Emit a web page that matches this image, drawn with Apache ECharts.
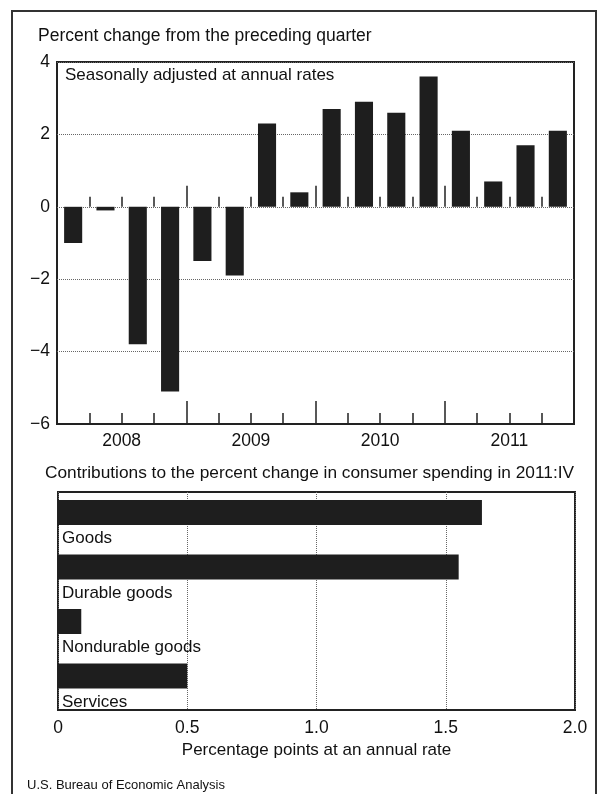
<!DOCTYPE html>
<html>
<head>
<meta charset="utf-8">
<script src="https://cdn.jsdelivr.net/npm/echarts@6/dist/echarts.min.js"></script>
<style>
html,body{margin:0;padding:0;background:#fff;}
#chart{width:600px;height:794px;}
</style>
</head>
<body>
<div id="chart"></div>
<script>
// ---- Data ----
const quarters = ['2008:I','2008:II','2008:III','2008:IV','2009:I','2009:II','2009:III','2009:IV',
                  '2010:I','2010:II','2010:III','2010:IV','2011:I','2011:II','2011:III','2011:IV'];
const pceChange = [-1.0, -0.1, -3.8, -5.1, -1.5, -1.9, 2.3, 0.4, 2.7, 2.9, 2.6, 3.6, 2.1, 0.7, 1.7, 2.1];
const years = ['2008', '2009', '2010', '2011'];
const components = ['Goods', 'Durable goods', 'Nondurable goods', 'Services'];
const contributions = [1.64, 1.55, 0.09, 0.50];

const FONT = "'Liberation Sans', Arial, Helvetica, sans-serif";
const INK = '#111';
const BAR = '#1e1e1e';

const chart = echarts.init(document.getElementById('chart'), null, {renderer: 'canvas'});

const minusFmt = v => (v < 0 ? '\u2212' + Math.abs(v) : String(v));

const option = {
  backgroundColor: '#fff',
  animation: false,
  textStyle: {fontFamily: FONT, color: INK},
  title: [
    {text: 'Percent change from the preceding quarter', left: 38, top: 27, padding: 0,
     textStyle: {fontSize: 17.5, fontWeight: 'normal', color: INK, fontFamily: FONT}},
    {text: 'Seasonally adjusted at annual rates', left: 65, top: 67, padding: 0,
     textStyle: {fontSize: 17, fontWeight: 'normal', color: INK, fontFamily: FONT}},
    {text: 'Contributions to the percent change in consumer spending in 2011:IV', left: 45, top: 465, padding: 0,
     textStyle: {fontSize: 17.3, fontWeight: 'normal', color: INK, fontFamily: FONT}},
    {text: 'U.S. Bureau of Economic Analysis', left: 27, top: 779, padding: 0,
     textStyle: {fontSize: 13, fontWeight: 'normal', color: INK, fontFamily: FONT}}
  ],
  graphic: [
    {type: 'rect', shape: {x: 12, y: 11, width: 584, height: 830}, silent: true,
     style: {fill: 'none', stroke: '#333', lineWidth: 2}, z: -1}
  ],
  grid: [
    {left: 57, right: 26, top: 62, bottom: 370, show: true, borderColor: '#222', borderWidth: 2, backgroundColor: 'transparent'},
    {left: 58, right: 25, top: 492, bottom: 84, show: true, borderColor: '#222', borderWidth: 2, backgroundColor: 'transparent'}
  ],
  xAxis: [
    // 0: quarter ticks at the bottom
    {gridIndex: 0, type: 'category', data: quarters, position: 'bottom',
     axisLine: {show: true, onZero: false, lineStyle: {color: '#222', width: 2}},
     axisTick: {show: true, inside: true, length: 11, interval: 0, lineStyle: {color: '#222', width: 1.5}},
     axisLabel: {show: false}, splitLine: {show: false}},
    // 1: year ticks & labels at the bottom
    {gridIndex: 0, type: 'category', data: years, position: 'bottom',
     axisLine: {show: true, onZero: false, lineStyle: {color: '#222', width: 2}},
     axisTick: {show: true, inside: true, length: 23, interval: 0, lineStyle: {color: '#222', width: 1.5}},
     axisLabel: {show: true, fontSize: 17.5, color: INK, margin: 8, fontFamily: FONT},
     splitLine: {show: false}},
    // 2: quarter ticks on the zero line
    {gridIndex: 0, type: 'category', data: quarters, position: 'bottom',
     axisLine: {show: true, onZero: true, onZeroAxisIndex: 0, lineStyle: {color: '#000', opacity: 0}},
     axisTick: {show: true, inside: true, length: 10, interval: 0, lineStyle: {color: '#222', width: 1.5, opacity: 1}},
     axisLabel: {show: false}, splitLine: {show: false}},
    // 3: year ticks on the zero line
    {gridIndex: 0, type: 'category', data: years, position: 'bottom',
     axisLine: {show: true, onZero: true, onZeroAxisIndex: 0, lineStyle: {color: '#000', opacity: 0}},
     axisTick: {show: true, inside: true, length: 21, interval: 0, lineStyle: {color: '#222', width: 1.5, opacity: 1}},
     axisLabel: {show: false}, splitLine: {show: false}},
    // 4: bottom chart value axis
    {gridIndex: 1, type: 'value', min: 0, max: 2, interval: 0.5,
     axisLine: {show: false}, axisTick: {show: false},
     axisLabel: {fontSize: 17.5, color: INK, margin: 9, fontFamily: FONT,
                 formatter: v => (v === 0 ? '0' : v.toFixed(1))},
     splitLine: {show: true, lineStyle: {type: 'dotted', color: '#666', width: 1}},
     name: 'Percentage points at an annual rate', nameLocation: 'middle', nameGap: 32,
     nameTextStyle: {fontSize: 17, color: INK, fontFamily: FONT}}
  ],
  yAxis: [
    {gridIndex: 0, type: 'value', min: -6, max: 4, interval: 2,
     axisLine: {show: false}, axisTick: {show: false},
     axisLabel: {fontSize: 17.5, color: INK, margin: 7, fontFamily: FONT, formatter: minusFmt},
     splitLine: {show: true, lineStyle: {type: 'dotted', color: '#666', width: 1}}},
    {gridIndex: 1, type: 'category', data: components, inverse: true,
     axisLine: {show: false}, axisTick: {show: false}, axisLabel: {show: false},
     splitLine: {show: false}}
  ],
  series: [
    {name: 'Percent change', type: 'bar', xAxisIndex: 0, yAxisIndex: 0,
     data: pceChange, barCategoryGap: '44%', itemStyle: {color: BAR}},
    {name: 'Contribution', type: 'bar', xAxisIndex: 4, yAxisIndex: 1,
     data: contributions, barWidth: 25, barGap: '-46%', itemStyle: {color: BAR},
     label: {show: true, position: [4, 30], formatter: '{b}', fontSize: 17, color: INK, fontFamily: FONT}},
    {name: 'spacer', type: 'bar', xAxisIndex: 4, yAxisIndex: 1,
     data: [], barWidth: 25, silent: true}
  ]
};

chart.setOption(option);
</script>
</body>
</html>
